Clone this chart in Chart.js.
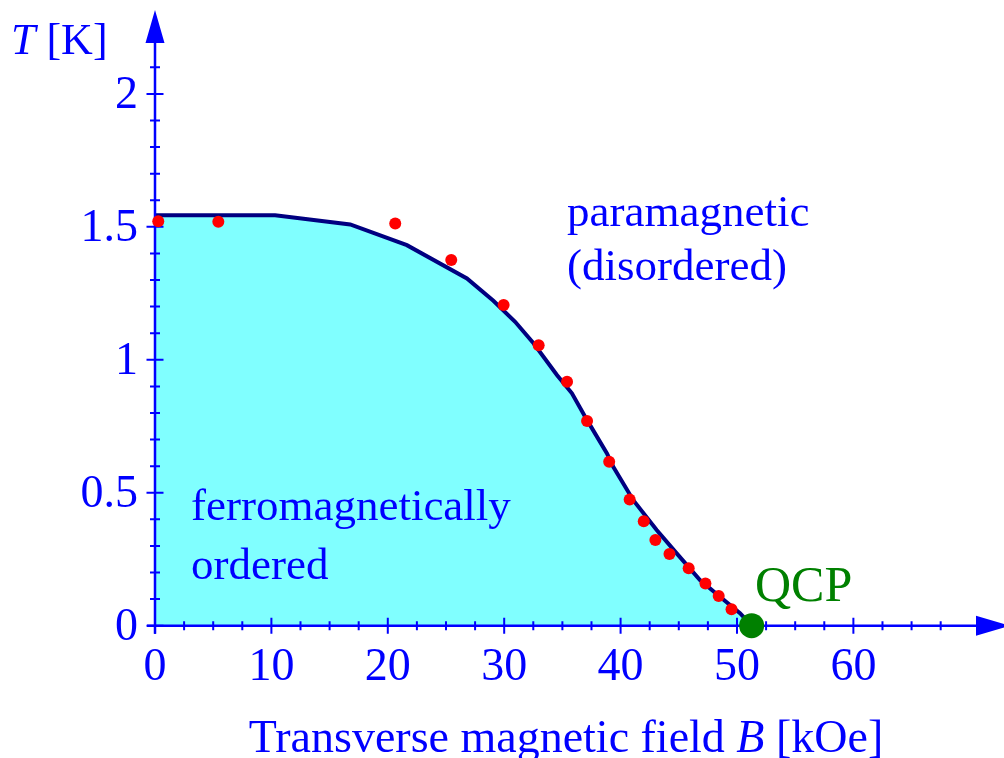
<!DOCTYPE html>
<html><head><meta charset="utf-8">
<script src="https://cdn.jsdelivr.net/npm/chart.js@4.4.0/dist/chart.umd.min.js"></script>
<style>html,body{margin:0;padding:0;background:#fff;}canvas{display:block;}</style>
</head><body>
<canvas id="c" width="1004" height="758"></canvas>
<script>
// ---- data (B in kOe, T in K) ----
const curveB = [0, 10.32, 16.77, 21.64, 26.80, 29.07, 30.94, 32.52, 34.53, 35.82, 37.11, 38.83, 39.37, 41.09, 43.10, 44.82, 46.82, 48.54, 50.26, 51.26];
const curveT = [1.544, 1.544, 1.509, 1.431, 1.306, 1.222, 1.143, 1.062, 0.943, 0.874, 0.774, 0.648, 0.598, 0.472, 0.360, 0.272, 0.172, 0.109, 0.047, 0];
const measB = [0.28, 5.44, 20.64, 25.45, 29.95, 32.96, 35.40, 37.12, 39.02, 40.78, 41.99, 42.99, 44.20, 45.85, 47.29, 48.43, 49.53];
const measT = [1.521, 1.519, 1.513, 1.375, 1.206, 1.055, 0.917, 0.770, 0.617, 0.475, 0.393, 0.322, 0.270, 0.216, 0.159, 0.112, 0.062];
const qcpB = [51.26];
const qcpT = [0];
const xMajorTicks = [0, 10, 20, 30, 40, 50, 60];
const xTickLabels = ['0', '10', '20', '30', '40', '50', '60'];
const xMinorTicks = [2.5, 5, 7.5, 12.5, 15, 17.5, 22.5, 25, 27.5, 32.5, 35, 37.5, 42.5, 45, 47.5, 52.5, 55, 57.5, 62.5, 65, 67.5];
const yMajorTicks = [0, 0.5, 1, 1.5, 2];
const yTickLabels = ['0', '0.5', '1', '1.5', '2'];
const yMinorTicks = [0.1, 0.2, 0.3, 0.4, 0.6, 0.7, 0.8, 0.9, 1.1, 1.2, 1.3, 1.4, 1.6, 1.7, 1.8, 1.9, 2.1];
const regionLabels = [['paramagnetic', '(disordered)'], ['ferromagnetically', 'ordered']];
const qcpLabel = 'QCP';

const BLUE = '#0000ff';
const FONT = "'Liberation Serif', 'Times New Roman', serif";
const toPts = (xs, ys) => xs.map((x, i) => ({x: x, y: ys[i]}));

const axesPlugin = {
  id: 'arrowAxes',
  afterDatasetDraw(chart, args) {
    if (args.index !== 0) return;
    const ctx = chart.ctx, xs = chart.scales.x, ys = chart.scales.y, ca = chart.chartArea;
    const x0 = xs.getPixelForValue(0), y0 = ys.getPixelForValue(0);
    ctx.save();
    ctx.strokeStyle = BLUE; ctx.fillStyle = BLUE; ctx.lineWidth = 2.5;
    ctx.beginPath();
    ctx.moveTo(x0 - 8, y0); ctx.lineTo(ca.right - 24, y0);
    ctx.moveTo(x0, y0 + 8); ctx.lineTo(x0, ca.top + 28);
    ctx.stroke();
    // arrows
    ctx.beginPath();
    ctx.moveTo(ca.right + 6, y0); ctx.lineTo(ca.right - 28, y0 - 10); ctx.lineTo(ca.right - 28, y0 + 10); ctx.closePath();
    ctx.moveTo(x0, ca.top); ctx.lineTo(x0 - 9.5, ca.top + 33); ctx.lineTo(x0 + 9.5, ca.top + 33); ctx.closePath();
    ctx.fill();
    // ticks
    ctx.lineWidth = 2;
    ctx.beginPath();
    xMajorTicks.forEach(v => { const p = xs.getPixelForValue(v); ctx.moveTo(p, y0 - 8); ctx.lineTo(p, y0 + 8); });
    xMinorTicks.forEach(v => { const p = xs.getPixelForValue(v); ctx.moveTo(p, y0 - 4.5); ctx.lineTo(p, y0 + 4.5); });
    yMajorTicks.forEach(v => { const p = ys.getPixelForValue(v); ctx.moveTo(x0 - 8.5, p); ctx.lineTo(x0 + 8.5, p); });
    yMinorTicks.forEach(v => { const p = ys.getPixelForValue(v); ctx.moveTo(x0 - 5, p); ctx.lineTo(x0 + 5, p); });
    ctx.stroke();
    ctx.restore();
  },
  afterDraw(chart) {
    const ctx = chart.ctx, xs = chart.scales.x, ys = chart.scales.y;
    const x0 = xs.getPixelForValue(0), y0 = ys.getPixelForValue(0);
    ctx.save();
    ctx.fillStyle = BLUE;
    ctx.font = '46px ' + FONT;
    ctx.textBaseline = 'alphabetic';
    ctx.textAlign = 'center';
    xMajorTicks.forEach((v, i) => ctx.fillText(xTickLabels[i], xs.getPixelForValue(v), y0 + 54));
    ctx.textAlign = 'right';
    yMajorTicks.forEach((v, i) => ctx.fillText(yTickLabels[i], x0 - 17, ys.getPixelForValue(v) + 14));
    // region labels
    ctx.textAlign = 'left';
    ctx.font = '45px ' + FONT;
    ctx.fillText(regionLabels[0][0], 567, 226);
    ctx.fillText(regionLabels[0][1], 567, 280);
    ctx.fillText(regionLabels[1][0], 191, 520);
    ctx.fillText(regionLabels[1][1], 191, 579);
    ctx.fillStyle = '#008000';
    ctx.font = '50px ' + FONT;
    ctx.fillText(qcpLabel, 755, 601);
    // axis titles with italic variable
    ctx.fillStyle = BLUE;
    ctx.font = 'italic 44px ' + FONT;
    ctx.fillText('T', 11, 54);
    let w = ctx.measureText('T').width;
    ctx.font = '44px ' + FONT;
    ctx.fillText(' [K]', 11 + w, 54);
    const p1 = 'Transverse magnetic field ', p2 = 'B', p3 = ' [kOe]';
    ctx.font = '46px ' + FONT; const w1 = ctx.measureText(p1).width, w3 = ctx.measureText(p3).width;
    ctx.font = 'italic 46px ' + FONT; const w2 = ctx.measureText(p2).width;
    let sx = 566 - (w1 + w2 + w3) / 2;
    ctx.font = '46px ' + FONT; ctx.fillText(p1, sx, 752);
    ctx.font = 'italic 46px ' + FONT; ctx.fillText(p2, sx + w1, 752);
    ctx.font = '46px ' + FONT; ctx.fillText(p3, sx + w1 + w2, 752);
    ctx.restore();
  }
};

new Chart(document.getElementById('c'), {
  type: 'scatter',
  data: {
    datasets: [
      { data: toPts(curveB, curveT), showLine: true, fill: 'origin', backgroundColor: '#80ffff',
        borderColor: '#000080', borderWidth: 4, pointRadius: 0, tension: 0, order: 3 },
      { data: toPts(measB, measT), showLine: false, pointRadius: 6, pointBackgroundColor: '#ff0000',
        pointBorderWidth: 0, backgroundColor: '#ff0000', borderColor: '#ff0000', clip: false, order: 2 },
      { data: toPts(qcpB, qcpT), showLine: false, pointRadius: 12.5, pointBackgroundColor: '#008000',
        pointBorderWidth: 0, backgroundColor: '#008000', borderColor: '#008000', clip: false, order: 1 }
    ]
  },
  options: {
    responsive: false, animation: false, events: [],
    layout: { autoPadding: false, padding: { left: 155, top: 10, right: 0, bottom: 132.3 } },
    plugins: { legend: { display: false }, tooltip: { enabled: false } },
    scales: {
      x: { type: 'linear', display: false, min: 0, max: 72.94 },
      y: { type: 'linear', display: false, min: 0, max: 2.3155 }
    }
  },
  plugins: [axesPlugin]
});
</script>
</body></html>
